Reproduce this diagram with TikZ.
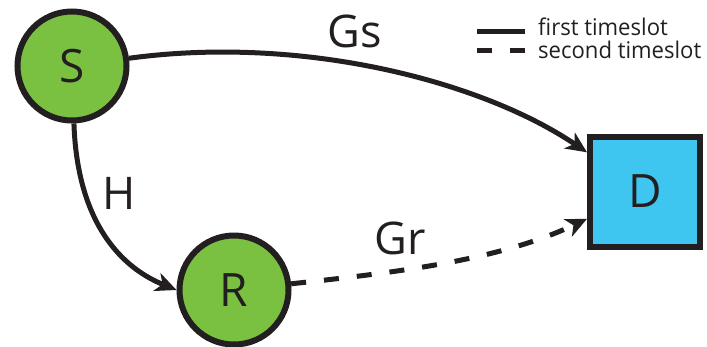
\documentclass[tikz,border=0pt]{standalone}
\usepackage{fontspec}
\setmainfont{Open Sans}
\newfontfamily\legendfont[FakeStretch=0.96]{Open Sans}
\usetikzlibrary{arrows.meta}

\definecolor{inkdark}{RGB}{35,31,32}
\definecolor{nodegreen}{RGB}{122,193,66}
\definecolor{nodeblue}{RGB}{62,197,240}

\tikzset{
  station/.style={circle,draw=inkdark,fill=nodegreen,line width=6pt,minimum size=109pt,inner sep=0pt,text=inkdark,font=\fontsize{46}{50}\selectfont},
  dest/.style={rectangle,draw=inkdark,fill=nodeblue,line width=6pt,minimum size=110pt,inner sep=0pt,text=inkdark,font=\fontsize{46}{50}\selectfont},
  link/.style={draw=inkdark,line width=5pt,-{Stealth[length=21pt,width=19pt,inset=6pt]}},
  secondslot/.style={dash pattern=on 15pt off 18pt},
  gain/.style={text=inkdark,font=\fontsize{45}{50}\selectfont,inner sep=0pt},
  legendtext/.style={text=inkdark,font=\legendfont\fontsize{23}{27}\selectfont,inner sep=0pt,anchor=base west}
}

\begin{document}
\begin{tikzpicture}[x=1pt,y=-1pt]

\useasboundingbox (0,0) rectangle (707,346);

\node[station] (S) at (72,66) {S};
\node[station] (R) at (234,290) {R};
\node[dest] (D) at (645,191.5) {D};



\draw[link] (S) .. controls (300,35) and (480,80) .. (D); %Gs
\draw[link] (S) .. controls (77,215) and (115,265) .. (R.west); %H
\draw[link,secondslot] (R) .. controls (400,272) and (500,260) .. (D); %Gr



\node[gain] (gs) at (355,31) {Gs};
\node[gain] (h) at (119,193) {H};
\node[gain] (gr) at (400,238) {Gr};

% legend
\coordinate (l1a) at (477,31);
\coordinate (l1b) at (525,31);
\coordinate (l2a) at (477,50);
\coordinate (l2b) at (525,50);
\draw[inkdark,line width=5pt] (l1a) -- (l1b);
\draw[inkdark,line width=5pt,secondslot] (l2a) -- (l2b);
\node[legendtext] (first) at (538,35) {first timeslot};
\node[legendtext] (second) at (538,58.5) {second timeslot};

\end{tikzpicture}
\end{document}
